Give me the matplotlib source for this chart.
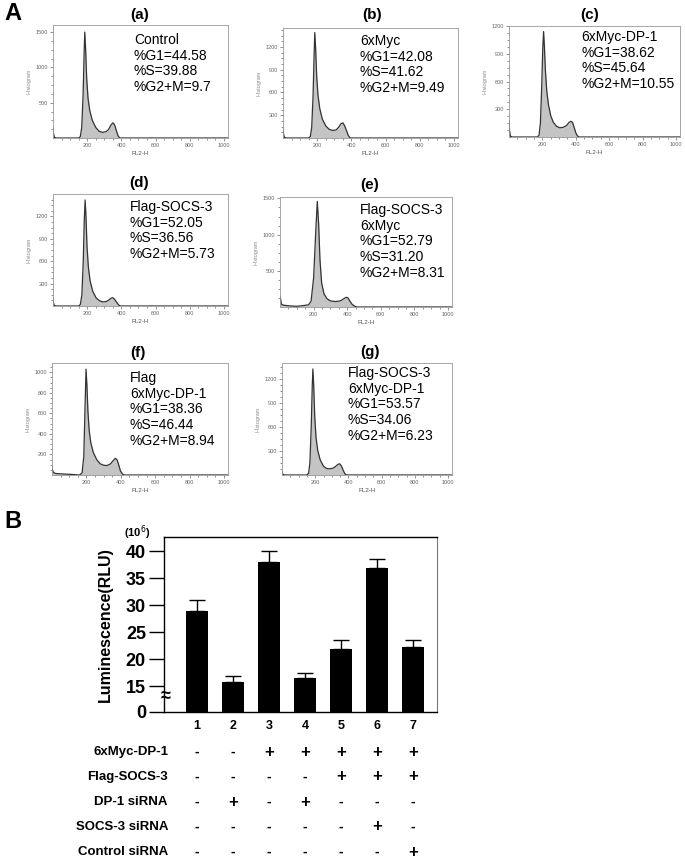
import numpy as np
import matplotlib
matplotlib.use('Agg')
import matplotlib.pyplot as plt
from matplotlib.transforms import blended_transform_factory

plt.rcParams['font.family'] = ['Liberation Sans', 'DejaVu Sans']

W, H = 685, 858

# ---- panel A: cell cycle histograms (channel, count) ----
a_ch = [0, 3, 8, 20, 150, 160, 168, 176, 182, 186, 191, 197, 205, 215, 230, 250, 270, 290, 310, 325, 338, 350, 360, 370, 380, 390, 1023]
a_cnt = [140, 60, 10, 0, 0, 20, 150, 600, 1200, 1500, 1250, 850, 560, 390, 250, 150, 95, 80, 90, 120, 180, 215, 190, 110, 35, 0, 0]

b_ch = [0, 3, 8, 20, 150, 160, 168, 176, 182, 186, 191, 197, 205, 215, 230, 250, 270, 290, 310, 325, 338, 350, 360, 372, 383, 393, 1023]
b_cnt = [120, 50, 10, 0, 0, 20, 140, 560, 1100, 1390, 1180, 820, 560, 390, 250, 160, 115, 100, 105, 140, 185, 200, 165, 95, 30, 0, 0]

c_ch = [0, 3, 8, 20, 170, 180, 188, 196, 202, 207, 212, 218, 226, 236, 250, 265, 285, 305, 325, 345, 358, 370, 380, 390, 400, 410, 420, 1023]
c_cnt = [180, 70, 10, 0, 0, 20, 150, 550, 950, 1140, 980, 720, 500, 350, 230, 160, 115, 100, 105, 125, 155, 170, 160, 105, 45, 12, 0, 0]

d_ch = [0, 3, 8, 20, 150, 160, 169, 177, 183, 188, 193, 199, 207, 217, 232, 252, 272, 292, 312, 327, 340, 350, 362, 374, 385, 395, 1023]
d_cnt = [110, 40, 5, 0, 0, 20, 150, 600, 1150, 1420, 1200, 800, 520, 340, 200, 110, 70, 55, 60, 80, 105, 112, 85, 45, 12, 0, 0]

e_ch = [0, 3, 8, 20, 60, 100, 140, 170, 185, 200, 212, 222, 230, 238, 248, 262, 280, 300, 330, 360, 380, 395, 405, 415, 430, 445, 460, 1023]
e_cnt = [150, 120, 40, 25, 15, 10, 20, 30, 80, 400, 1000, 1460, 1150, 650, 330, 180, 115, 85, 75, 85, 115, 135, 125, 85, 35, 10, 0, 0]

f_ch = [0, 3, 8, 20, 60, 120, 160, 175, 185, 192, 198, 203, 209, 216, 225, 240, 260, 280, 300, 320, 340, 355, 368, 378, 388, 398, 410, 420, 1023]
f_cnt = [80, 50, 25, 15, 10, 5, 0, 20, 180, 650, 1030, 880, 620, 440, 320, 220, 150, 110, 95, 92, 108, 138, 162, 150, 100, 40, 10, 0, 0]

g_ch = [0, 3, 8, 20, 150, 160, 168, 176, 182, 186, 191, 197, 205, 215, 230, 250, 270, 290, 310, 325, 338, 348, 358, 368, 378, 388, 1023]
g_cnt = [50, 20, 5, 0, 0, 20, 150, 600, 1100, 1330, 1120, 740, 470, 310, 190, 110, 80, 78, 88, 112, 135, 140, 112, 62, 18, 0, 0]

panel_tags = ['(a)', '(b)', '(c)', '(d)', '(e)', '(f)', '(g)']
panel_text = [
    'Control\n%G1=44.58\n%S=39.88\n%G2+M=9.7',
    '6xMyc\n%G1=42.08\n%S=41.62\n%G2+M=9.49',
    '6xMyc-DP-1\n%G1=38.62\n%S=45.64\n%G2+M=10.55',
    'Flag-SOCS-3\n%G1=52.05\n%S=36.56\n%G2+M=5.73',
    'Flag-SOCS-3\n6xMyc\n%G1=52.79\n%S=31.20\n%G2+M=8.31',
    'Flag\n6xMyc-DP-1\n%G1=38.36\n%S=46.44\n%G2+M=8.94',
    'Flag-SOCS-3\n6xMyc-DP-1\n%G1=53.57\n%S=34.06\n%G2+M=6.23',
]
panel_yticks = [
    [500, 1000, 1500],
    [300, 600, 900, 1200],
    [300, 600, 900, 1200],
    [300, 600, 900, 1200],
    [500, 1000, 1500],
    [200, 400, 600, 800, 1000],
    [300, 600, 900, 1200],
]
panel_ymax = [1600, 1450, 1200, 1500, 1520, 1090, 1405]
hist_x = [a_ch, b_ch, c_ch, d_ch, e_ch, f_ch, g_ch]
hist_y = [a_cnt, b_cnt, c_cnt, d_cnt, e_cnt, f_cnt, g_cnt]

# ---- panel B: luciferase assay ----
lanes = [1, 2, 3, 4, 5, 6, 7]
lum = [28.9, 15.8, 38.0, 16.5, 21.9, 36.8, 22.2]
lum_err = [2.1, 1.05, 2.1, 1.0, 1.6, 1.8, 1.3]
ytick_vals = [15, 20, 25, 30, 35, 40]
row_names = ['6xMyc-DP-1', 'Flag-SOCS-3', 'DP-1 siRNA', 'SOCS-3 siRNA', 'Control siRNA']
row_marks = [
    ['-', '-', '+', '+', '+', '+', '+'],
    ['-', '-', '-', '-', '+', '+', '+'],
    ['-', '+', '-', '+', '-', '-', '-'],
    ['-', '-', '-', '-', '-', '+', '-'],
    ['-', '-', '-', '-', '-', '-', '+'],
]

fig = plt.figure(figsize=(W / 100, H / 100), dpi=100)


def px_axes(l, t, r, b):
    return fig.add_axes([l / W, 1 - b / H, (r - l) / W, (b - t) / H])


def fx(x):
    return x / W


def fy(y):
    return 1 - y / H


# pixel boxes (left, top, right, bottom) for histograms
boxes = [(53, 25, 228, 138), (283, 28, 458, 138), (509, 26, 680, 137),
         (53, 194, 228, 306), (280, 197, 452, 307),
         (52, 363, 228, 475), (282, 363, 452, 475)]
tag_pos = [(140, 15), (372, 15), (590, 15), (139, 183), (370, 185), (138, 353), (370, 352)]
text_pos = [(134, 33), (360, 34), (581, 30), (130, 200), (360, 203), (130, 371), (348, 366)]

grey = '#8a8a8a'
for i in range(7):
    ax = px_axes(*boxes[i])
    ax.fill_between(hist_x[i], hist_y[i], color='#c4c4c4', lw=0)
    ax.plot(hist_x[i], hist_y[i], color='#333333', lw=0.9)
    ax.set_xlim(0, 1024)
    ax.set_ylim(0, panel_ymax[i])
    ax.set_xticks([200, 400, 600, 800, 1000])
    ax.set_xticks(np.arange(50, 1024, 50), minor=True)
    ax.set_yticks(panel_yticks[i])
    step = panel_yticks[i][1] - panel_yticks[i][0]
    ax.set_yticks(np.arange(step / 4, panel_ymax[i], step / 4), minor=True)
    ax.tick_params(which='both', labelsize=4, colors='#666666', length=2, width=0.5, pad=1.5)
    ax.tick_params(which='minor', length=1.2)
    for sp in ax.spines.values():
        sp.set_color('#999999')
        sp.set_linewidth(0.6)
    ax.set_ylabel('Histogram', fontsize=4, color=grey, labelpad=3)
    ax.set_xlabel('FL2-H', fontsize=4.5, color='#555555', labelpad=2)
    fig.text(fx(tag_pos[i][0]), fy(tag_pos[i][1]), panel_tags[i], fontsize=11,
             fontweight='bold', ha='center', va='center')
    fig.text(fx(text_pos[i][0]), fy(text_pos[i][1]), panel_text[i], fontsize=10,
             ha='left', va='top', linespacing=1.15)

fig.text(fx(4), fy(13), 'A', fontsize=17, fontweight='bold', ha='left', va='center')
fig.text(fx(4), fy(521), 'B', fontsize=17, fontweight='bold', ha='left', va='center')

# bar chart with a broken y axis: the bottom of the axis stands for 0
floor = 10.2
bx = px_axes(164, 537, 437, 712)
bx.bar(lanes, [v - floor for v in lum], bottom=floor, width=0.62, color='black')
bx.errorbar(lanes, lum, yerr=[np.zeros(len(lum)), lum_err], fmt='none',
            ecolor='black', elinewidth=1, capsize=6, capthick=1)
bx.set_xlim(0.08, 7.67)
bx.set_ylim(floor, 42.6)
bx.set_yticks([floor] + ytick_vals)
bx.set_yticklabels(['0'] + [str(v) for v in ytick_vals], fontsize=13, fontweight='bold')
bx.set_xticks(lanes)
bx.set_xticklabels([str(v) for v in lanes], fontsize=9, fontweight='bold')
bx.tick_params(axis='x', length=0, pad=6)
bx.tick_params(axis='y', length=11, width=1, pad=2)
for sp in ['left', 'bottom', 'top']:
    bx.spines[sp].set_linewidth(1)
bx.spines['right'].set_color('#777777')
bx.set_ylabel('Luminescence(RLU)', fontsize=11.5, fontweight='bold', labelpad=9)
fig.text(fx(137), fy(533), '(10$^6$)', fontsize=8, fontweight='bold', ha='center', va='center')
fig.text(fx(166), fy(697), '≈', fontsize=13, fontweight='bold', ha='center', va='center')

trans = blended_transform_factory(bx.transData, fig.transFigure)
row_y = [752, 777, 802, 827, 852]
for r, name in enumerate(row_names):
    fig.text(fx(168), fy(row_y[r]), name, fontsize=9.5, fontweight='bold',
             ha='right', va='center')
    for j, m in enumerate(row_marks[r]):
        bx.text(lanes[j], fy(row_y[r]), m, transform=trans, fontsize=12 if m == '+' else 10,
                fontweight='bold', ha='center', va='center', clip_on=False)

fig.savefig('out.png', dpi=100)
